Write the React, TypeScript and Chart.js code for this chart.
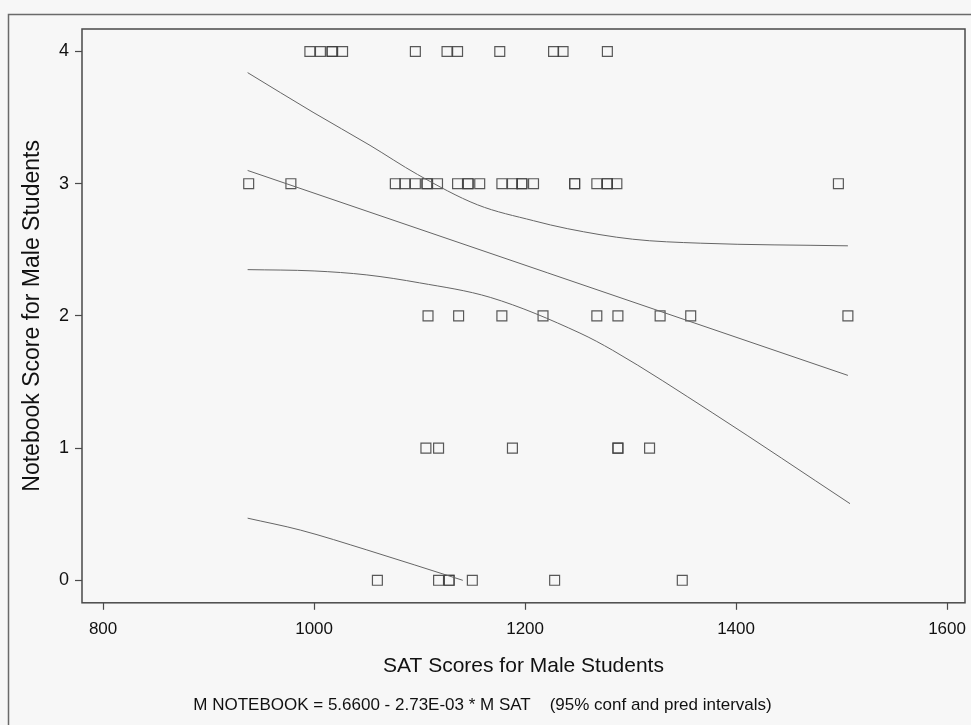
import React, { useEffect, useRef } from "react";
import { Chart, registerables } from "chart.js";

Chart.register(...registerables);

// ---- data ----
const xTicks = [800, 1000, 1200, 1400, 1600];
const yTicks = [0, 1, 2, 3, 4];

// SAT scores of male students grouped by their notebook score
const satScore4 = [996, 1006, 1017, 1017, 1027, 1096, 1126, 1136, 1176, 1227, 1236, 1278];
const satScore3 = [938, 978, 1077, 1086, 1096, 1107, 1107, 1117, 1136, 1146, 1146, 1157, 1178, 1188, 1197, 1197, 1208, 1247, 1247, 1268, 1278, 1278, 1287, 1497];
const satScore2 = [1108, 1137, 1178, 1217, 1268, 1288, 1328, 1357, 1506];
const satScore1 = [1106, 1118, 1188, 1288, 1288, 1318];
const satScore0 = [1060, 1118, 1128, 1128, 1150, 1228, 1349];

// regression line
const fitX = [937, 1506];
const fitY = [3.1, 1.55];
// 95% confidence band
const upperConfX = [937, 999, 1053, 1098, 1155, 1208, 1240, 1302, 1366, 1506];
const upperConfY = [3.84, 3.54, 3.29, 3.07, 2.84, 2.72, 2.66, 2.58, 2.55, 2.53];
const lowerConfX = [937, 1000, 1050, 1100, 1167, 1252, 1283, 1378, 1508];
const lowerConfY = [2.35, 2.34, 2.31, 2.25, 2.14, 1.87, 1.74, 1.265, 0.58];
// 95% prediction interval (lower, visible part)
const lowerPredX = [937, 987, 1050, 1141];
const lowerPredY = [0.47, 0.38, 0.23, 0.0];

const xTitle = "SAT Scores for Male Students";
const yTitle = "Notebook Score for Male Students";
const formula = "M NOTEBOOK = 5.6600 - 2.73E-03 * M SAT    (95% conf and pred intervals)";

const FONT = "'Liberation Sans', Arial, Helvetica, sans-serif";
const TEXT = "#111111";

const pts = (xs: number[], y: number) => xs.map((x) => ({ x, y }));
const zip = (xs: number[], ys: number[]) => xs.map((x, i) => ({ x, y: ys[i] }));

const framePlugin = {
  id: "frame",
  beforeDraw(chart: any) {
    const { ctx, width, height } = chart;
    ctx.save();
    ctx.fillStyle = "#f7f7f7";
    ctx.fillRect(0, 0, width, height);
    ctx.strokeStyle = "#6a6a6a";
    ctx.lineWidth = 1.5;
    ctx.beginPath();
    ctx.moveTo(8.5, height);
    ctx.lineTo(8.5, 14.5);
    ctx.lineTo(width, 14.5);
    ctx.stroke();
    ctx.restore();
  },
  afterDatasetsDraw(chart: any) {
    const { ctx, chartArea } = chart;
    ctx.save();
    ctx.strokeStyle = "#4a4a4a";
    ctx.lineWidth = 1.5;
    ctx.strokeRect(chartArea.left, chartArea.top, chartArea.right - chartArea.left, chartArea.bottom - chartArea.top);
    ctx.restore();
  },
};

const lineDs = (label: string, data: any[]) => ({
  label,
  data,
  showLine: true,
  borderColor: "#666666",
  borderWidth: 1,
  pointRadius: 0,
  pointHoverRadius: 0,
  fill: false,
  cubicInterpolationMode: "monotone" as const,
});

const pointDs = (label: string, data: any[]) => ({
  label,
  data,
  showLine: false,
  pointStyle: "rect" as const,
  pointRadius: 7,
  pointBorderWidth: 1.2,
  pointBorderColor: "rgba(60,60,60,0.85)",
  pointBackgroundColor: "rgba(0,0,0,0)",
  borderColor: "rgba(60,60,60,0.85)",
  backgroundColor: "rgba(0,0,0,0)",
});

export default function App() {
  const ref = useRef<HTMLCanvasElement | null>(null);

  useEffect(() => {
    if (!ref.current) return;
    const chart = new Chart(ref.current, {
      type: "scatter",
      data: {
        datasets: [
          lineDs("Fit", zip(fitX, fitY)),
          lineDs("Upper 95% conf", zip(upperConfX, upperConfY)),
          lineDs("Lower 95% conf", zip(lowerConfX, lowerConfY)),
          lineDs("Lower 95% pred", zip(lowerPredX, lowerPredY)),
          pointDs("Score 4", pts(satScore4, 4)),
          pointDs("Score 3", pts(satScore3, 3)),
          pointDs("Score 2", pts(satScore2, 2)),
          pointDs("Score 1", pts(satScore1, 1)),
          pointDs("Score 0", pts(satScore0, 0)),
        ],
      },
      options: {
        animation: false,
        responsive: false,
        maintainAspectRatio: false,
        layout: { autoPadding: false, padding: { left: 0, right: 6, top: 29, bottom: 9 } },
        plugins: {
          legend: { display: false },
          tooltip: { enabled: false },
          title: {
            display: true,
            position: "bottom",
            text: formula,
            color: TEXT,
            font: { family: FONT, size: 17, weight: "normal" },
            padding: { top: 0, bottom: 0 },
          },
        },
        scales: {
          x: {
            type: "linear",
            min: 780,
            max: 1617,
            afterFit: (s: any) => {
              s.height = 92.8;
              s.paddingLeft = 0;
              s.paddingRight = 0;
            },
            afterBuildTicks: (s: any) => {
              s.ticks = xTicks.map((v) => ({ value: v }));
            },
            border: { display: false },
            grid: { drawOnChartArea: false, drawTicks: true, tickLength: 7, color: "#4a4a4a", tickWidth: 1.2 },
            ticks: {
              padding: 9,
              color: TEXT,
              font: { family: FONT, size: 17 },
              maxRotation: 0,
              autoSkip: false,
              callback: (v: any) => String(v),
            },
            title: {
              display: true,
              text: xTitle,
              color: TEXT,
              font: { family: FONT, size: 21 },
              padding: { top: 0, bottom: 17 },
            },
          },
          y: {
            type: "linear",
            min: -0.17,
            max: 4.17,
            afterFit: (s: any) => {
              s.width = 82;
              s.paddingTop = 0;
              s.paddingBottom = 0;
            },
            afterBuildTicks: (s: any) => {
              s.ticks = yTicks.map((v) => ({ value: v }));
            },
            border: { display: false },
            grid: { drawOnChartArea: false, drawTicks: true, tickLength: 7, color: "#4a4a4a", tickWidth: 1.2 },
            ticks: {
              padding: 6,
              color: TEXT,
              font: { family: FONT, size: 18 },
              autoSkip: false,
              callback: (v: any) => String(v),
            },
            title: {
              display: true,
              text: yTitle,
              color: TEXT,
              font: { family: FONT, size: 23 },
              padding: { top: 19, bottom: 0 },
            },
          },
        },
      },
      plugins: [framePlugin],
    });
    return () => chart.destroy();
  }, []);

  return (
    <div style={{ position: "absolute", left: 0, top: 0, width: 971, height: 725 }}>
      <canvas ref={ref} width={971} height={725} style={{ display: "block" }} />
    </div>
  );
}
